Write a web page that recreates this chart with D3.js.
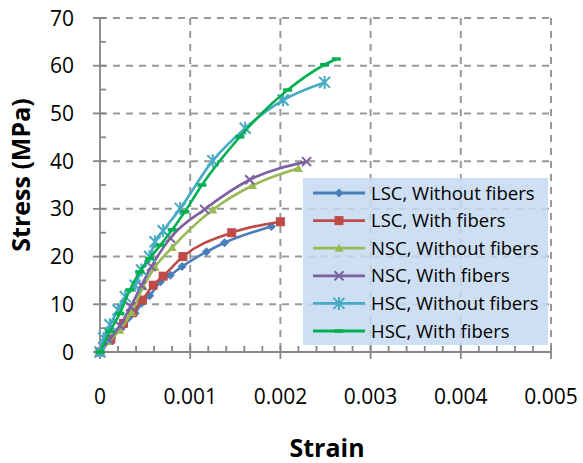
<!DOCTYPE html>
<html><head><meta charset="utf-8">
<script src="https://cdn.jsdelivr.net/npm/d3@7"></script>
<style>body{margin:0;background:#fff}svg{display:block}</style>
</head><body>
<svg id="c" width="583" height="463"></svg>
<script>
const seriesNames = ["LSC, Without fibers","LSC, With fibers","NSC, Without fibers","NSC, With fibers","HSC, Without fibers","HSC, With fibers"];
const seriesColors = ["#4a7ebb","#be4b48","#98b954","#7d60a0","#46aac5","#00b050"];
const seriesMarkers = ["diamond","square","triangle","x","star","dash"];
const lscWithout = [[0,0],[0.00013,2.9],[0.00026,5.5],[0.00039,8.1],[0.00046,10.2],[0.00055,11.8],[0.00067,14.7],[0.00078,16.1],[0.00091,17.9],[0.00118,21.0],[0.00138,22.9],[0.0019,26.3]];
const lscWith = [[0,0],[0.00012,2.7],[0.00026,6.0],[0.00036,8.3],[0.00047,10.9],[0.00059,14.0],[0.0007,15.9],[0.00092,20.0],[0.00146,25.0],[0.002,27.3]];
const nscWithout = [[0,0],[0.0001,2.2],[0.00022,4.6],[0.00035,8.3],[0.00048,13.7],[0.00061,17.8],[0.0008,21.9],[0.00125,29.8],[0.00169,34.9],[0.0022,38.5]];
const nscWith = [[0,0],[0.0001,2.5],[0.00022,5.5],[0.00034,9.5],[0.00046,14.0],[0.00057,17.9],[0.00078,23.9],[0.00116,29.9],[0.00166,36.1],[0.00229,39.9]];
const hscWithout = [[0,0],[0.00004,2.9],[0.00011,5.7],[0.0002,8.8],[0.00028,11.6],[0.00039,14.0],[0.00046,17.2],[0.00055,20.0],[0.00061,23.1],[0.0007,25.4],[0.00089,30.1],[0.00125,40.1],[0.00161,46.9],[0.00203,52.8],[0.00249,56.5]];
const hscWith = [[0,0],[0.00011,4.3],[0.00022,8.1],[0.00033,13.0],[0.00044,16.8],[0.00055,19.6],[0.00067,22.4],[0.0008,25.6],[0.00094,29.4],[0.00113,35.0],[0.00155,45.1],[0.00208,54.9],[0.00249,60.2],[0.00262,61.4]];
const seriesData = [lscWithout,lscWith,nscWithout,nscWith,hscWithout,hscWith];
const xTicks = [0,0.001,0.002,0.003,0.004,0.005];
const xTickLabels = ["0","0.001","0.002","0.003","0.004","0.005"];
const yTicks = [0,10,20,30,40,50,60,70];

const svg = d3.select("#c");
const x = d3.scaleLinear().domain([0,0.005]).range([100,551]);
const y = d3.scaleLinear().domain([0,70]).range([352,18]);
const font = "'Open Sans', sans-serif";

// gridlines
const grid = svg.append("g");
xTicks.slice(1).forEach(t=>grid.append("line").attr("x1",x(t)).attr("x2",x(t)).attr("y1",y(70)).attr("y2",y(0))
  .attr("stroke","#999").attr("stroke-width",2).attr("stroke-dasharray","7,6"));
yTicks.slice(1).forEach(t=>grid.append("line").attr("x1",x(0)).attr("x2",x(0.005)).attr("y1",y(t)).attr("y2",y(t))
  .attr("stroke","#999").attr("stroke-width",2).attr("stroke-dasharray","7,6"));

// axes
const ax = svg.append("g").attr("stroke","#868686").attr("stroke-width",1.8);
ax.append("line").attr("x1",x(0)).attr("x2",x(0.005)).attr("y1",y(0)).attr("y2",y(0));
ax.append("line").attr("x1",x(0)).attr("x2",x(0)).attr("y1",y(0)).attr("y2",y(70));
d3.range(0,0.00501,0.0002).forEach((t,i)=>{
  const major = i%5===0;
  ax.append("line").attr("x1",x(t)).attr("x2",x(t)).attr("y1",y(0)-6).attr("y2",y(0)+(major?7:0));
});
d3.range(0,70.1,5).forEach((t,i)=>{
  const major = i%2===0;
  ax.append("line").attr("y1",y(t)).attr("y2",y(t)).attr("x1",x(0)-(major?7:0)).attr("x2",x(0)+6);
});
// tick labels
svg.append("g").selectAll("text").data(xTicks).join("text")
  .attr("x",d=>x(d)).attr("y",404).attr("text-anchor","middle")
  .attr("font-family",font).attr("font-size",21).attr("fill","#000").text((d,i)=>xTickLabels[i]);
svg.append("g").selectAll("text").data(yTicks).join("text")
  .attr("x",74).attr("y",d=>y(d)+7.5).attr("text-anchor","end")
  .attr("font-family",font).attr("font-size",21).attr("fill","#000").text(d=>d);
// axis titles
svg.append("text").attr("x",327).attr("y",457).attr("text-anchor","middle")
  .attr("font-family",font).attr("font-weight","bold").attr("font-size",25).text("Strain");
svg.append("text").attr("transform","translate(30,175) rotate(-90)").attr("text-anchor","middle")
  .attr("font-family",font).attr("font-weight","bold").attr("font-size",25).text("Stress (MPa)");

function marker(g,type,cx,cy,color){
  const s=4.5;
  if(type==="diamond") g.append("path").attr("d",`M${cx},${cy-s}L${cx+s},${cy}L${cx},${cy+s}L${cx-s},${cy}Z`).attr("fill",color);
  else if(type==="square") g.append("rect").attr("x",cx-s).attr("y",cy-s).attr("width",2*s).attr("height",2*s).attr("fill",color);
  else if(type==="triangle") g.append("path").attr("d",`M${cx},${cy-s}L${cx+s},${cy+s*0.8}L${cx-s},${cy+s*0.8}Z`).attr("fill",color);
  else if(type==="x") g.append("path").attr("d",`M${cx-s},${cy-s}L${cx+s},${cy+s}M${cx-s},${cy+s}L${cx+s},${cy-s}`).attr("stroke",color).attr("stroke-width",2);
  else if(type==="star") g.append("path").attr("d",`M${cx-s-1},${cy-s-1}L${cx+s+1},${cy+s+1}M${cx-s-1},${cy+s+1}L${cx+s+1},${cy-s-1}M${cx},${cy-s-2}L${cx},${cy+s+2}`).attr("stroke",color).attr("stroke-width",2);
  else if(type==="dash") g.append("path").attr("d",`M${cx-s},${cy}L${cx+s},${cy}`).attr("stroke",color).attr("stroke-width",3.5);
}

const line = d3.line().x(d=>x(d[0])).y(d=>y(d[1])).curve(d3.curveMonotoneX);
seriesData.forEach((data,i)=>{
  const g = svg.append("g");
  g.append("path").attr("d",line(data)).attr("fill","none").attr("stroke",seriesColors[i]).attr("stroke-width",2.6);
  data.forEach(d=>marker(g,seriesMarkers[i],x(d[0]),y(d[1]),seriesColors[i]));
});

// legend
const lg = svg.append("g");
lg.append("rect").attr("x",303).attr("y",178).attr("width",245).attr("height",167).attr("fill","#c6d9f1").attr("fill-opacity",0.85);
seriesNames.forEach((n,i)=>{
  const cy = 193 + i*27.6;
  lg.append("line").attr("x1",313).attr("x2",365).attr("y1",cy).attr("y2",cy).attr("stroke",seriesColors[i]).attr("stroke-width",2.8);
  marker(lg,seriesMarkers[i],339,cy,seriesColors[i]);
  lg.append("text").attr("x",371).attr("y",cy+6.5).attr("font-family",font).attr("font-size",18.5).attr("fill","#000").text(n);
});
</script>
</body></html>
